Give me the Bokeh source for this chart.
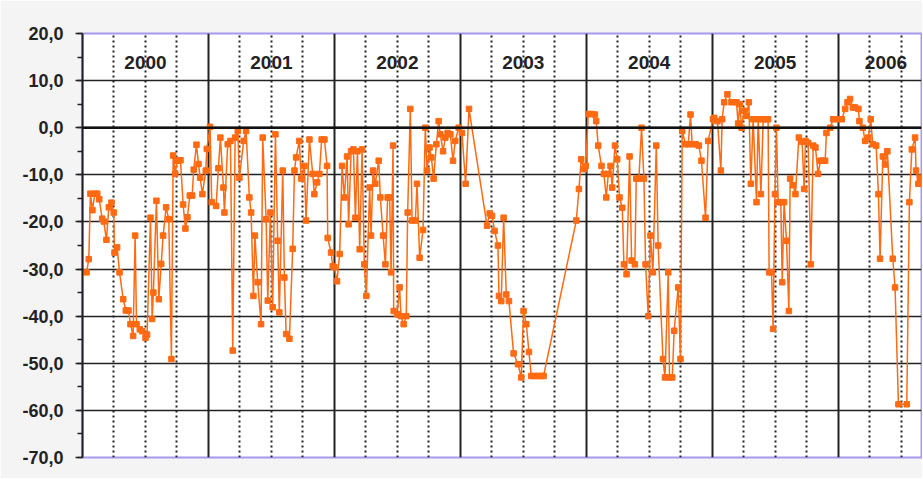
from bokeh.plotting import figure
from bokeh.models import (Range1d, SingleIntervalTicker, FixedTicker, Grid,
                          CustomJSTickFormatter, Span, ColumnDataSource)
from bokeh.core.properties import value
from bokeh.embed import file_html
from bokeh.resources import INLINE

# ---------------- data (decimal year, index value) ----------------
date_yr = [
    2000.032, 2000.050, 2000.063, 2000.079, 2000.098, 2000.117, 2000.133, 2000.156, 2000.169, 2000.190,
    2000.209, 2000.230, 2000.248, 2000.254, 2000.275, 2000.294, 2000.323, 2000.344, 2000.365, 2000.381,
    2000.402, 2000.418, 2000.429, 2000.455, 2000.474, 2000.500, 2000.513, 2000.540, 2000.553, 2000.563,
    2000.587, 2000.606, 2000.625, 2000.640, 2000.664, 2000.685, 2000.706, 2000.720, 2000.736, 2000.752,
    2000.778, 2000.799, 2000.817, 2000.833, 2000.852, 2000.871, 2000.883, 2000.905, 2000.921, 2000.934,
    2000.952, 2000.979, 2000.987,
    2001.013, 2001.026, 2001.061, 2001.079, 2001.095, 2001.119, 2001.127, 2001.153, 2001.175, 2001.193,
    2001.212, 2001.233, 2001.246, 2001.280, 2001.299, 2001.325, 2001.339, 2001.357, 2001.369, 2001.391,
    2001.418, 2001.431, 2001.458, 2001.471, 2001.492, 2001.510, 2001.532, 2001.550, 2001.563, 2001.590,
    2001.603, 2001.617, 2001.643, 2001.669, 2001.683, 2001.696, 2001.722, 2001.736, 2001.762, 2001.775,
    2001.802, 2001.828, 2001.841, 2001.863, 2001.881, 2001.899, 2001.921, 2001.942, 2001.947, 2001.974,
    2001.987,
    2002.000, 2002.021, 2002.042, 2002.061, 2002.079, 2002.101, 2002.113, 2002.133, 2002.151, 2002.167,
    2002.183, 2002.201, 2002.220, 2002.238, 2002.254, 2002.280, 2002.291, 2002.307, 2002.325, 2002.352,
    2002.365, 2002.387, 2002.405, 2002.423, 2002.439, 2002.450, 2002.466, 2002.471, 2002.498, 2002.518,
    2002.529, 2002.550, 2002.571, 2002.582, 2002.603, 2002.617, 2002.643, 2002.656, 2002.677, 2002.704,
    2002.722, 2002.736, 2002.756, 2002.770, 2002.788, 2002.810, 2002.828, 2002.841, 2002.863, 2002.881,
    2002.899, 2002.921, 2002.942, 2002.960, 2002.987,
    2003.013, 2003.042, 2003.069, 2003.212, 2003.233, 2003.252, 2003.272, 2003.299, 2003.307, 2003.325,
    2003.344, 2003.365, 2003.386, 2003.423, 2003.458, 2003.484, 2003.502, 2003.524, 2003.545, 2003.563,
    2003.590, 2003.617, 2003.643, 2003.661, 2003.921, 2003.942, 2003.960, 2003.982, 2003.996,
    2004.016, 2004.042, 2004.069, 2004.079, 2004.095, 2004.121, 2004.140, 2004.159, 2004.175, 2004.193,
    2004.206, 2004.228, 2004.246, 2004.264, 2004.286, 2004.299, 2004.320, 2004.344, 2004.360, 2004.386,
    2004.397, 2004.418, 2004.439, 2004.458, 2004.471, 2004.492, 2004.510, 2004.529, 2004.556, 2004.571,
    2004.609, 2004.625, 2004.651, 2004.661, 2004.683, 2004.698, 2004.730, 2004.748, 2004.762, 2004.788,
    2004.810, 2004.828, 2004.841, 2004.868, 2004.894, 2004.915, 2004.947, 2004.968,
    2005.006, 2005.016, 2005.042, 2005.069, 2005.079, 2005.095, 2005.121, 2005.153, 2005.193, 2005.206,
    2005.220, 2005.233, 2005.254, 2005.272, 2005.291, 2005.307, 2005.325, 2005.352, 2005.365, 2005.387,
    2005.405, 2005.423, 2005.444, 2005.452, 2005.471, 2005.484, 2005.498, 2005.510, 2005.524, 2005.545,
    2005.556, 2005.571, 2005.590, 2005.609, 2005.619, 2005.643, 2005.661, 2005.688, 2005.714, 2005.730,
    2005.741, 2005.762, 2005.783, 2005.802, 2005.820, 2005.841, 2005.860, 2005.881, 2005.897, 2005.907,
    2005.937, 2005.960, 2005.990,
    2006.029, 2006.056, 2006.074, 2006.095, 2006.117, 2006.135, 2006.161, 2006.169, 2006.196, 2006.214,
    2006.240, 2006.259, 2006.275, 2006.302, 2006.320, 2006.333, 2006.355, 2006.373, 2006.391, 2006.434,
    2006.452, 2006.479, 2006.545, 2006.566, 2006.585, 2006.611, 2006.619, 2006.637, 2006.651,
]
index_val = [
    -30.7, -27.9, -14.0, -17.5, -14.0, -14.0, -15.2, -19.3, -19.9, -23.8,
    -16.9, -15.9, -18.0, -26.5, -25.4, -30.7, -36.4, -38.8, -38.8, -41.7,
    -44.2, -22.9, -41.7, -42.8, -43.2, -44.6, -43.9, -19.1, -40.6, -35.0,
    -15.5, -36.4, -28.9, -22.9, -16.9, -19.4, -49.1, -5.9, -9.8, -7.0,
    -6.9, -16.3, -21.4, -19.0, -14.4, -14.4, -8.9, -3.6, -7.7, -10.6,
    -14.1, -9.1, -4.5,
    0.2, -15.8, -16.6, -8.6, -2.1, -12.7, -18.0, -3.5, -2.8, -47.3,
    -2.1, -0.7, -10.6, -2.8, -0.7, -14.8, -18.0, -35.7, -22.9, -32.8,
    -41.7, -2.1, -19.4, -36.7, -18.0, -38.1, -1.4, -24.0, -39.2, -9.1,
    -31.8, -43.8, -44.8, -25.7, -9.1, -6.3, -2.8, -10.8, -8.1, -19.7,
    -2.5, -9.8, -14.1, -11.6, -9.8, -2.5, -2.5, -8.1, -23.4, -26.5,
    -29.4,
    -29.6, -32.6, -26.8, -8.1, -14.8, -6.1, -20.5, -5.0, -4.6, -19.1,
    -5.0, -25.8, -4.6, -29.0, -35.7, -12.7, -22.9, -9.1, -11.9, -7.0,
    -14.8, -22.9, -29.0, -14.8, -14.8, -30.7, -3.8, -38.9, -39.6, -33.9,
    -40.0, -41.7, -40.0, -18.0, 4.0, -19.7, -19.7, -11.9, -27.6, -21.7,
    0.0, -9.1, -4.2, -6.3, -10.8, -3.5, 1.4, -1.4, -5.0, -2.1,
    -1.1, -1.4, -7.0, -2.8, 0.0,
    -1.1, -11.9, 4.0, -20.8, -18.2, -18.7, -21.9, -25.0, -35.7, -36.8,
    -19.1, -35.4, -36.8, -47.9, -50.2, -53.0, -38.9, -41.7, -47.6, -52.7,
    -52.7, -52.7, -52.7, -52.7, -19.7, -13.0, -6.7, -8.8, -8.1,
    2.9, 2.9, 2.8, 1.4, -3.8, -8.1, -9.8, -14.8, -9.8, -8.1,
    -12.7, -3.8, -6.7, -14.8, -17.0, -29.0, -31.1, -6.1, -28.2, -29.0,
    -10.8, -10.8, 0.0, -10.8, -29.0, -40.0, -22.9, -30.7, -3.8, -25.0,
    -49.1, -53.0, -30.7, -53.0, -53.0, -43.1, -33.9, -49.1, -0.7, -3.5,
    -3.5, 2.8, -3.5, -3.5, -3.8, -7.0, -19.1, -2.8,
    1.8, 2.1, 1.4, -9.1, 1.8, 5.4, 7.1, 5.4, 5.4, 0.9,
    5.0, 0.0, 3.6, 2.5, 5.4, -11.9, 1.8, -15.8, 1.8, -14.1,
    1.8, 1.8, 1.8, -30.7, -30.7, -42.7, -14.1, 0.0, -15.8, -15.8,
    -32.8, -15.8, -24.0, -38.9, -10.8, -12.2, -14.1, -2.1, -3.0, -13.0,
    -2.8, -3.2, -29.0, -3.8, -4.2, -9.8, -7.0, -7.0, -7.0, -1.1,
    0.0, 1.8, 1.8,
    1.8, 4.0, 5.4, 6.1, 4.3, 4.3, 4.0, 1.4, 0.0, -2.8,
    -2.1, 1.8, -3.5, -3.8, -14.1, -27.8, -6.1, -7.8, -5.0, -27.8,
    -33.9, -58.7, -58.7, -15.8, -4.6, -2.1, -9.1, -11.9, -10.6,
]

year_boundaries = [2000, 2001, 2002, 2003, 2004, 2005, 2006]
quarter_lines = [2000.25, 2000.5, 2000.75, 2001.25, 2001.5, 2001.75, 2002.25, 2002.5, 2002.75,
                 2003.25, 2003.5, 2003.75, 2004.25, 2004.5, 2004.75, 2005.25, 2005.5, 2005.75,
                 2006.25, 2006.5]
year_labels = ["2000", "2001", "2002", "2003", "2004", "2005", "2006"]
year_label_x = [2000.5, 2001.5, 2002.5, 2003.5, 2004.5, 2005.5, 2006.38]
year_label_y = [13.8] * 7

X_START, X_END = 2000.0, 2006.662
Y_MIN, Y_MAX = -70.0, 20.0

# ---------------- figure ----------------
p = figure(width=922, height=478, output_backend="svg", toolbar_location=None,
           x_range=Range1d(X_START, X_END), y_range=Range1d(Y_MIN, Y_MAX),
           min_border_left=82, min_border_right=1, min_border_top=33, min_border_bottom=21)

p.background_fill_color = "white"
p.border_fill_color = "#f4f4f4"
p.outline_line_color = "#a797ee"
p.outline_line_width = 2

p.xaxis.visible = False
p.xgrid.visible = False

# horizontal grid every 10
p.ygrid.ticker = SingleIntervalTicker(interval=10)
p.ygrid.grid_line_color = "#222222"
p.ygrid.grid_line_width = 1.6

# y axis
yax = p.yaxis[0]
yax.ticker = SingleIntervalTicker(interval=10, num_minor_ticks=2)
yax.formatter = CustomJSTickFormatter(code="return tick.toFixed(1).replace('.', ',');")
yax.axis_line_color = "#222222"
yax.axis_line_width = 2
yax.major_tick_line_color = "#222222"
yax.major_tick_line_width = 1.5
yax.major_tick_out = 7
yax.major_tick_in = 0
yax.minor_tick_line_color = "#222222"
yax.minor_tick_line_width = 1.5
yax.minor_tick_out = 5
yax.minor_tick_in = 0
yax.major_label_text_font = "Liberation Sans"
yax.major_label_text_font_style = "bold"
yax.major_label_text_font_size = "18px"
yax.major_label_text_color = "#222222"
yax.major_label_standoff = 12

# vertical quarter lines (dotted) and year lines (solid)
qgrid = Grid(dimension=0, ticker=FixedTicker(ticks=quarter_lines),
             grid_line_color="#222222", grid_line_width=2, grid_line_dash="2 3")
p.add_layout(qgrid)
ygrid_years = Grid(dimension=0, ticker=FixedTicker(ticks=year_boundaries),
                   grid_line_color="#222222", grid_line_width=2)
p.add_layout(ygrid_years)

# zero line thicker
p.add_layout(Span(location=0, dimension="width", line_color="#111111", line_width=2.5))

# year labels
p.text(x=year_label_x, y=year_label_y, text=year_labels,
       text_font=value("Liberation Sans"), text_font_style="bold",
       text_font_size="19px", text_color="#222222",
       text_align="center", text_baseline="middle")

# series
src = ColumnDataSource(dict(x=date_yr, y=index_val))
p.line("x", "y", source=src, line_color="#ff6a12", line_width=1.5)
p.scatter("x", "y", source=src, marker="square", size=5.5,
          fill_color="#ff6a12", line_color="#ff6a12")

open("out.html", "w").write(file_html(p, INLINE))
